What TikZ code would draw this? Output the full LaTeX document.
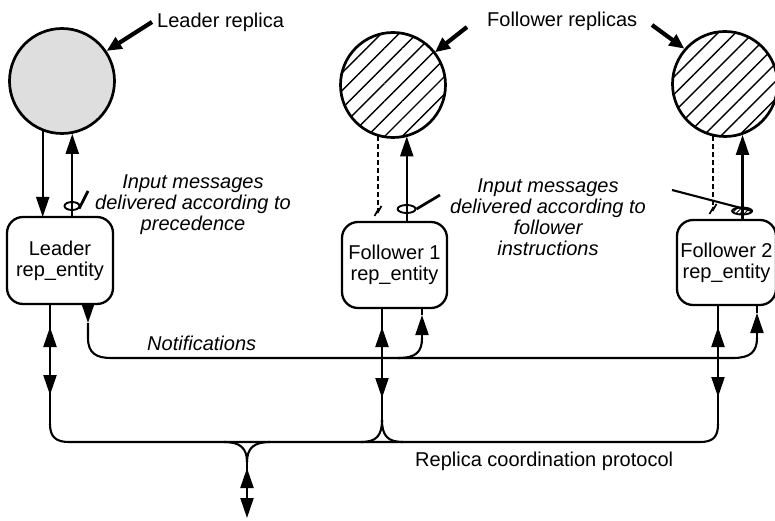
\documentclass[tikz,border=0pt]{standalone}
\usepackage{fontspec}
\setmainfont{Liberation Sans}
\usetikzlibrary{arrows.meta,patterns.meta,shapes.geometric,decorations.markings}
\tikzset{
  wtip/.tip={Triangle[length=20pt,width=13pt]},
}
\begin{document}
\begin{tikzpicture}[x=1pt,y=-1pt,
  wire/.style={line width=2.1pt},
  flow/.style={line width=2.1pt,-{wtip}},
  pointer/.style={line width=4.2pt,-{Triangle[length=15pt,width=13pt]}},
  replica/.style={circle,draw,line width=2.7pt,minimum size=105pt,inner sep=0pt},
  stipple/.style={fill=black!13},
  hatched/.style={pattern={Lines[angle=45,distance=12.5pt,line width=1.4pt]}},
  entity/.style={draw,line width=2.3pt,rounded corners=16pt,inner sep=0pt,outer sep=0pt,
    align=center,font=\fontsize{20}{21}\selectfont},
  txt/.style={inner sep=0pt,font=\fontsize{20}{21}\selectfont},
  note/.style={inner sep=0pt,align=center,font=\fontsize{20}{21}\selectfont\itshape},
  flag/.style={draw,ellipse,line width=1.9pt,inner sep=0pt},
  muted/.style={line width=2.3pt,dash pattern=on 5pt off 3pt},
  updown/.style 2 args={postaction={decorate},decoration={markings,
    mark=at position #1 with {\arrowreversed{wtip}},
    mark=at position #2 with {\arrow{wtip}}}},
]
\useasboundingbox (0,0) rectangle (775,521);

% replicas
\node[replica,stipple] (lrep) at (62,81) {};
\node[replica,hatched] (f1rep) at (393,85) {};
\node[replica,hatched] (f2rep) at (725,84) {};

% replica entities
\node[entity,minimum width=106pt,minimum height=87pt] (lbox) at (60,260.5) {Leader\\rep\_entity};
\node[entity,minimum width=105pt,minimum height=86pt] (f1box) at (394.5,265) {Follower 1\\rep\_entity};
\node[entity,minimum width=99pt,minimum height=85pt] (f2box) at (726.5,262.5) {Follower 2\\rep\_entity};

% titles and their pointers
\node[txt,anchor=base west] (lrlab) at (157,28) {Leader replica};
\node[txt,anchor=base west] (frlab) at (487,27) {Follower replicas};
\coordinate (lp0) at (152,22);
\coordinate (fp1) at (467,27);
\coordinate (fp2) at (652,25);
\draw[pointer] (lp0) -- (lrep.34);
\draw[pointer] (fp1) -- (f1rep.38);
\draw[pointer] (fp2) -- (f2rep.139);

% leader: replica <-> entity
\draw[flow] (lrep.249) -- (lrep.249 |- lbox.north);
\draw[flow] (lrep.281 |- lbox.north) -- (lrep.281);
\node[flag,minimum width=15pt,minimum height=8pt] (lflag) at (72,206) {};
\coordinate (lpt) at (88,191);
\draw[line width=2.7pt] (lflag.-20) -- (lpt);
\node[note,anchor=north] (lnote) at (193,175) {Input messages\\delivered according to\\precedence};

% follower 1: replica <-> entity
\coordinate (f1cut) at (378,211);
\draw[muted] (f1rep.254) -- (f1rep.254 |- f1cut);
\draw[line width=1.7pt] (374.5,216) -- (378.5,209) (377.5,213) -- (381.5,206);
\draw[flow] (f1rep.285 |- f1box.north) -- (f1rep.285);
\node[flag,minimum width=18pt,minimum height=8pt] (f1flag) at (406.6,209) {};
\coordinate (f1pt) at (440,195);
\draw[line width=2.7pt] (f1flag.east) -- (f1pt);
\node[note,anchor=north] (fnote) at (548,179) {Input messages\\delivered according to\\follower\\instructions};

% follower 2: replica <-> entity
\coordinate (f2cut) at (713,209);
\draw[muted] (f2rep.257) -- (f2rep.257 |- f2cut);
\draw[line width=1.7pt] (709.5,214) -- (713.5,207) (712.5,211) -- (716.5,204);
\draw[flow] (f2rep.289 |- f2box.north) -- (f2rep.289);
\node[flag,minimum width=20pt,minimum height=7pt,
  pattern={Lines[angle=45,distance=3pt,line width=0.9pt]}] (f2flag) at (742.1,211) {};
\coordinate (f2pt) at (672,190);
\draw[line width=2.1pt] (f2pt) -- (f2flag.east);

% notifications from the leader to the followers
\coordinate (nL) at (88,323);
\coordinate (nF1) at (422,315);
\coordinate (nF2) at (757,313);
\draw[flow] (lbox.south -| nL) -- (nL);
\draw[wire] (nL) -- (88,338) .. controls (88,353) and (96,358) .. (111,358)
  -- (733,358) .. controls (750,358) and (757,352) .. (757,338);
\draw[flow] (757,338) -- (nF2);
\draw[wire] (nF2) -- (nF2 |- f2box.south);
\draw[wire] (398,358) .. controls (416,358) and (422,352) .. (422,338);
\draw[flow] (422,338) -- (nF1);
\draw[wire] (nF1) -- (nF1 |- f1box.south);
\node[note,anchor=base west] (nlab) at (147,350) {Notifications};

% replica coordination protocol bus
\coordinate (bL) at (50,424);
\coordinate (b1) at (382,420);
\coordinate (bR) at (718,424);
\coordinate (bY) at (247,462);
\coordinate (bout) at (247,518);
\draw[wire,updown={23pt}{91pt}] (lbox.south -| bL) -- (bL);
\draw[wire,updown={19pt}{90pt}] (f1box.south -| b1) -- (b1);
\draw[wire,updown={22pt}{92pt}] (f2box.south -| bR) -- (bR);
\draw[wire] (bL) .. controls (50,437) and (56,442) .. (69,442) -- (700,442)
  .. controls (713,442) and (718,437) .. (bR);
\draw[wire] (b1) .. controls (382,436) and (376,442) .. (361,442);
\draw[wire] (b1) .. controls (382,436) and (388,442) .. (403,442);
\draw[wire] (224,442) .. controls (240,442) and (247,448) .. (bY);
\draw[wire] (270,442) .. controls (254,442) and (247,448) .. (bY);
\draw[flow,postaction={decorate},decoration={markings,
  mark=at position 6pt with {\arrowreversed{wtip}}}] (bY) -- (bout);
\node[txt,anchor=base west] (blab) at (415,466) {Replica coordination protocol};
\end{tikzpicture}
\end{document}
